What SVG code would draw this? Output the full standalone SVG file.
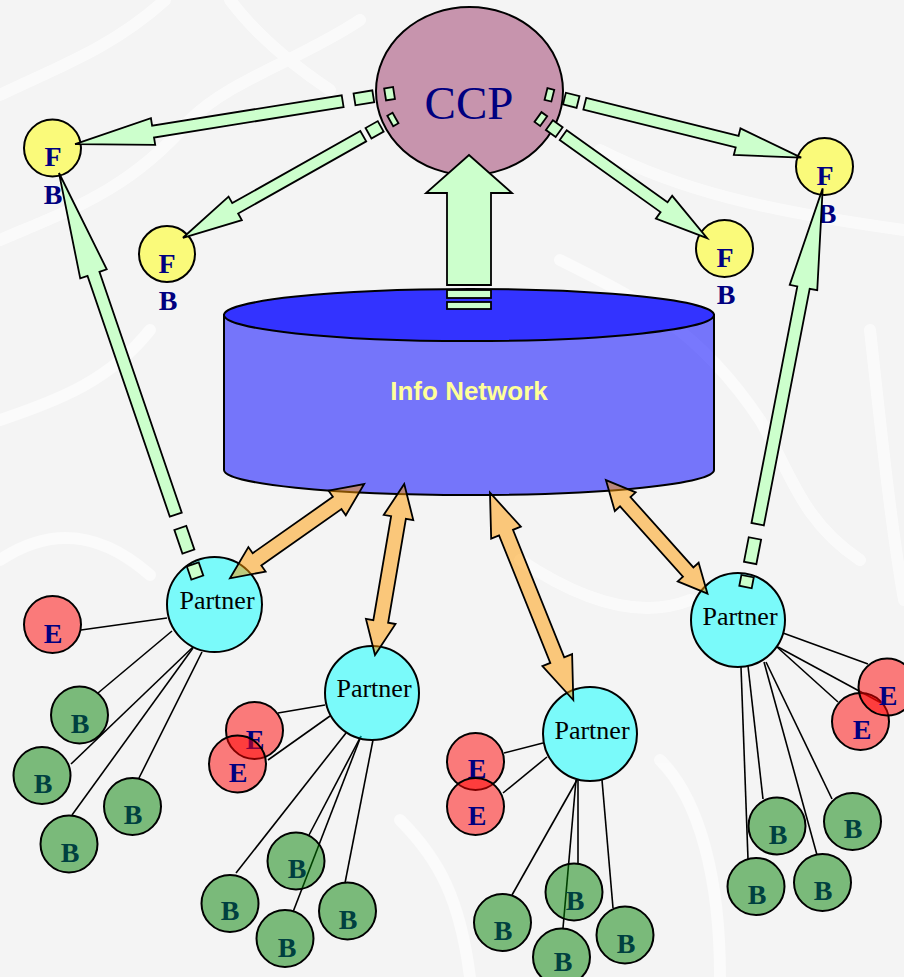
<svg xmlns="http://www.w3.org/2000/svg" width="904" height="977" viewBox="0 0 904 977">
<style>
.bgband{fill:none;stroke:#ffffff;stroke-width:12;stroke-linecap:round;stroke-linejoin:round}
.ln{stroke:#000;stroke-width:1.6;fill:none}
.ga{fill:#ccffcc;stroke:#000;stroke-width:1.8;stroke-linejoin:miter}
.oa{fill:#ff9900;fill-opacity:.5;stroke:#000;stroke-width:1.8}
.ccp{fill:#993366;fill-opacity:.5;stroke:#000;stroke-width:2}
.fn{fill:#ffff00;fill-opacity:.5;stroke:#000;stroke-width:2}
.pn{fill:#00ffff;fill-opacity:.5;stroke:#000;stroke-width:2}
.en{fill:#ff0000;fill-opacity:.5;stroke:#000;stroke-width:2}
.bn{fill:#008000;fill-opacity:.5;stroke:#000;stroke-width:2}
.lt{font-family:"Liberation Serif","Times New Roman",serif;font-weight:bold;font-size:28px;text-anchor:middle;fill:#000080}
.bt{font-family:"Liberation Serif","Times New Roman",serif;font-weight:bold;font-size:28px;text-anchor:middle;fill:#004040}
.pt{font-family:"Liberation Serif","Times New Roman",serif;font-size:26px;text-anchor:middle;fill:#000}
</style>
<rect x="0" y="0" width="904" height="977" fill="#f4f4f4"/>
<g id="background" opacity="0.6">
<path class="bgband" d="M0,95 C50,70 110,50 165,0"/>
<path class="bgband" d="M0,240 C70,210 130,190 190,120 C230,80 300,60 360,20"/>
<path class="bgband" d="M0,420 C60,400 110,380 150,330"/>
<path class="bgband" d="M230,0 C260,40 300,70 330,90"/>
<path class="bgband" d="M600,150 C680,190 760,210 904,230"/>
<path class="bgband" d="M560,260 C640,300 700,330 760,420 C790,470 800,520 860,560"/>
<path class="bgband" d="M0,560 C60,520 110,540 150,575"/>
<path class="bgband" d="M520,560 C580,600 640,620 690,600"/>
<path class="bgband" d="M870,330 C880,420 890,520 904,600"/>
<path class="bgband" d="M400,820 C440,860 460,900 470,977"/>
<path class="bgband" d="M660,760 C700,800 720,880 720,977"/>
</g>
<g id="connector-lines">
<line class="ln" x1="167" y1="618" x2="81" y2="630"/>
<line class="ln" x1="172" y1="631" x2="98" y2="693"/>
<line class="ln" x1="193" y1="647" x2="71" y2="764"/>
<line class="ln" x1="193" y1="648" x2="72" y2="815"/>
<line class="ln" x1="202" y1="652" x2="139" y2="778"/>
<line class="ln" x1="325" y1="705" x2="278" y2="713"/>
<line class="ln" x1="330" y1="716" x2="268" y2="760"/>
<line class="ln" x1="346" y1="733" x2="236" y2="873"/>
<line class="ln" x1="361" y1="736" x2="309" y2="835"/>
<line class="ln" x1="361" y1="736" x2="293" y2="912"/>
<line class="ln" x1="373" y1="740" x2="345" y2="883"/>
<line class="ln" x1="543" y1="743" x2="504" y2="753"/>
<line class="ln" x1="547" y1="757" x2="503" y2="793"/>
<line class="ln" x1="577" y1="780" x2="512" y2="895"/>
<line class="ln" x1="578" y1="780" x2="578" y2="864"/>
<line class="ln" x1="576" y1="780" x2="563" y2="928"/>
<line class="ln" x1="602" y1="780" x2="613" y2="908"/>
<line class="ln" x1="783" y1="633" x2="868" y2="664"/>
<line class="ln" x1="777" y1="647" x2="838" y2="702"/>
<line class="ln" x1="778" y1="647" x2="885" y2="705"/>
<line class="ln" x1="741" y1="667" x2="748" y2="859"/>
<line class="ln" x1="748" y1="666" x2="763" y2="799"/>
<line class="ln" x1="764" y1="662" x2="817" y2="855"/>
<line class="ln" x1="766" y1="662" x2="832" y2="799"/>
</g>
<g id="info-network">
<path d="M224,315 L224,470 A245,25 0 0 0 714,470 L714,315 Z" fill="#0000ff" fill-opacity="0.52" stroke="#000" stroke-width="2"/>
<ellipse cx="469" cy="315" rx="245" ry="26" fill="#3333ff" stroke="#000" stroke-width="2"/>
<text x="469" y="400" font-family="'Liberation Sans',Arial,sans-serif" font-weight="bold" font-size="26" text-anchor="middle" fill="#ffff99">Info Network</text>
</g>
<g id="ccp">
<ellipse class="ccp" cx="469.5" cy="91" rx="93.5" ry="84"/>
<text x="469" y="119" font-family="'Liberation Serif','Times New Roman',serif" font-size="47" text-anchor="middle" fill="#000080">CCP</text>
</g>
<g id="f1"><circle class="fn" cx="52.5" cy="148" r="28.5"/><text class="lt" x="53" y="166">F</text><text class="lt" x="53" y="204">B</text></g>
<g id="f2"><circle class="fn" cx="167" cy="254" r="28"/><text class="lt" x="167" y="273">F</text><text class="lt" x="168" y="310">B</text></g>
<g id="f3"><circle class="fn" cx="724.5" cy="248.5" r="28.5"/><text class="lt" x="725" y="267">F</text><text class="lt" x="726" y="304">B</text></g>
<g id="f4"><circle class="fn" cx="824.5" cy="166.5" r="28.5"/><text class="lt" x="825" y="185">F</text><text class="lt" x="827" y="223">B</text></g>
<g id="p1"><circle class="pn" cx="214.5" cy="604.5" r="47.5"/><text class="pt" x="217" y="609">Partner</text></g>
<g id="p2"><circle class="pn" cx="372" cy="693" r="47"/><text class="pt" x="374" y="697">Partner</text></g>
<g id="p3"><circle class="pn" cx="590" cy="734" r="47"/><text class="pt" x="592" y="739">Partner</text></g>
<g id="p4"><circle class="pn" cx="738" cy="620" r="47"/><text class="pt" x="740" y="625">Partner</text></g>
<g id="e1"><circle class="en" cx="52.5" cy="624.5" r="28.5"/><text class="lt" x="53" y="643">E</text></g>
<g id="e2"><circle class="en" cx="254.5" cy="730.5" r="28.5"/><text class="lt" x="255" y="749">E</text></g>
<g id="e3"><circle class="en" cx="237.5" cy="764" r="28.5"/><text class="lt" x="238" y="782">E</text></g>
<g id="e4"><circle class="en" cx="475.5" cy="761.5" r="28.5"/><text class="lt" x="477" y="778">E</text></g>
<g id="e5"><circle class="en" cx="475.5" cy="806.5" r="28.5"/><text class="lt" x="477" y="825">E</text></g>
<g id="e7"><circle class="en" cx="860.5" cy="721.5" r="28.5"/><text class="lt" x="862" y="739">E</text></g>
<g id="e6"><circle class="en" cx="887" cy="687" r="28.5"/><text class="lt" x="888" y="705">E</text></g>
<g id="b1"><circle class="bn" cx="79.5" cy="715" r="28.5"/><text class="bt" x="80" y="733">B</text></g>
<g id="b2"><circle class="bn" cx="42" cy="775.5" r="28.5"/><text class="bt" x="43" y="793">B</text></g>
<g id="b3"><circle class="bn" cx="132.5" cy="806.5" r="28.5"/><text class="bt" x="133" y="824">B</text></g>
<g id="b4"><circle class="bn" cx="69" cy="844" r="28.5"/><text class="bt" x="70" y="862">B</text></g>
<g id="b5"><circle class="bn" cx="296" cy="861" r="28.5"/><text class="bt" x="297" y="878">B</text></g>
<g id="b6"><circle class="bn" cx="230" cy="903.5" r="28.5"/><text class="bt" x="230" y="920">B</text></g>
<g id="b7"><circle class="bn" cx="347.5" cy="911" r="28.5"/><text class="bt" x="348" y="929">B</text></g>
<g id="b8"><circle class="bn" cx="285" cy="938.5" r="28.5"/><text class="bt" x="287" y="957">B</text></g>
<g id="b9"><circle class="bn" cx="502.5" cy="922.5" r="28.5"/><text class="bt" x="503" y="940">B</text></g>
<g id="b10"><circle class="bn" cx="574" cy="892" r="28.5"/><text class="bt" x="575" y="910">B</text></g>
<g id="b11"><circle class="bn" cx="625" cy="935" r="28.5"/><text class="bt" x="626" y="953">B</text></g>
<g id="b12"><circle class="bn" cx="561.5" cy="957" r="28.5"/><text class="bt" x="563" y="971">B</text></g>
<g id="b13"><circle class="bn" cx="777" cy="826" r="28.5"/><text class="bt" x="778" y="844">B</text></g>
<g id="b14"><circle class="bn" cx="852.5" cy="821.5" r="28.5"/><text class="bt" x="853" y="838">B</text></g>
<g id="b15"><circle class="bn" cx="756" cy="886.5" r="28.5"/><text class="bt" x="757" y="904">B</text></g>
<g id="b16"><circle class="bn" cx="822.5" cy="882.5" r="28.5"/><text class="bt" x="823" y="900">B</text></g>
<g id="connector-arrows">
<g transform="translate(394,93) rotate(170.9)">
<rect class="ga" x="0" y="-6" width="9" height="12"/><rect class="ga" x="21" y="-6" width="19" height="12"/>
<polygon class="ga" points="52,-6 244,-6 244,-13.5 323,0 244,13.5 244,6 52,6"/>
</g>
<g transform="translate(395.5,118) rotate(150.6)">
<rect class="ga" x="0" y="-6" width="6" height="12"/><rect class="ga" x="17" y="-6" width="14" height="12"/>
<polygon class="ga" points="37,-6 184,-6 184,-13.5 244,0 184,13.5 184,6 37,6"/>
</g>
<g transform="translate(546,94) rotate(14)">
<rect class="ga" x="0" y="-6" width="7" height="12"/><rect class="ga" x="19" y="-6" width="14" height="12"/>
<polygon class="ga" points="40,-6 197,-6 197,-13.7 263,0 197,13.7 197,6 40,6"/>
</g>
<g transform="translate(538,117) rotate(35.6)">
<rect class="ga" x="0" y="-6" width="7" height="12"/><rect class="ga" x="14" y="-6" width="12" height="12"/>
<polygon class="ga" points="31,-6 155,-6 155,-14 208,0 155,14 155,6 31,6"/>
</g>
<g transform="translate(469,309) rotate(-90)">
<rect class="ga" x="0" y="-22" width="7" height="44"/><rect class="ga" x="11" y="-22" width="8" height="44"/>
<polygon class="ga" points="24,-22 116,-22 116,-43 154,0 116,43 116,22 24,22"/>
</g>
<g transform="translate(197.3,577.6) rotate(-108.87)">
<rect class="ga" x="0" y="-6.3" width="14" height="12.6"/><rect class="ga" x="27.5" y="-6.3" width="25" height="12.6"/>
<polygon class="ga" points="66.5,-6.3 321,-6.3 321,-14 427.6,0 321,14 321,6.3 66.5,6.3"/>
</g>
<g transform="translate(745.5,587) rotate(-79.04)">
<rect class="ga" x="0" y="-6.3" width="11" height="12.6"/><rect class="ga" x="24.5" y="-6.3" width="25" height="12.6"/>
<polygon class="ga" points="64,-6.3 305,-6.3 305,-14 406,0 305,14 305,6.3 64,6.3"/>
</g>
<polygon class="oa" transform="translate(230,578.3) rotate(-35.1)" points="0,0 33,-15 33,-7.5 131,-7.5 131,-15 164,0 131,15 131,7.5 33,7.5 33,15"/>
<polygon class="oa" transform="translate(375,655) rotate(-80.3)" points="0,0 34,-15 34,-7.5 139.5,-7.5 139.5,-15 173.5,0 139.5,15 139.5,7.5 34,7.5 34,15"/>
<polygon class="oa" transform="translate(573.3,700) rotate(-111.9)" points="0,0 43,-16 43,-7.5 180.4,-7.5 180.4,-16 223.4,0 180.4,16 180.4,7.5 43,7.5 43,16"/>
<polygon class="oa" transform="translate(707.5,593.7) rotate(-131.8)" points="0,0 29,-14 29,-7 123.4,-7 123.4,-14 152.4,0 123.4,14 123.4,7 29,7 29,14"/>
</g>
</svg>
